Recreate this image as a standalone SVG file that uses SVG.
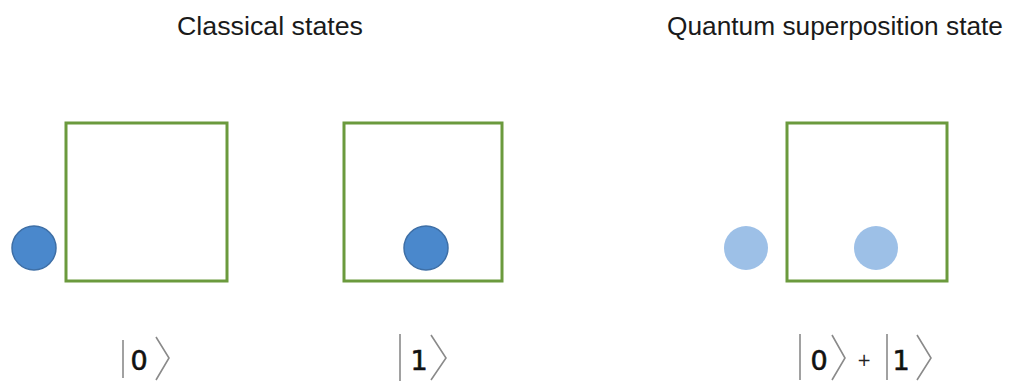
<svg xmlns="http://www.w3.org/2000/svg" width="1010" height="383" viewBox="0 0 1010 383">
<style>
.title{font-family:"Liberation Sans",Arial,sans-serif;font-size:25px;fill:#1a1a1a}
.box{fill:#ffffff;stroke:#6b9a3d;stroke-width:3}
.ball{fill:#4a88cc;stroke:#3e6fa6;stroke-width:1.5}
.ghost{fill:#9dc0e7}
.digit{font-family:"DejaVu Sans",Verdana,sans-serif;font-size:27px;fill:#111;stroke:#111;stroke-width:0.6}
.plus{font-family:"DejaVu Sans",Verdana,sans-serif;font-size:17px;fill:#222}
.ket{fill:none;stroke:#8a8a8a;stroke-width:1.6}
</style>
<rect width="1010" height="383" fill="#ffffff"/>
<text class="title" x="270" y="35" text-anchor="middle" textLength="186" lengthAdjust="spacingAndGlyphs">Classical states</text>
<text class="title" x="835" y="35" text-anchor="middle" textLength="336" lengthAdjust="spacingAndGlyphs">Quantum superposition state</text>
<g id="state0">
<rect class="box" x="66" y="123" width="161" height="158"/>
<circle class="ball" cx="34" cy="248" r="22"/>
</g>
<g id="state1">
<rect class="box" x="344" y="123" width="158" height="158"/>
<circle class="ball" cx="426" cy="248" r="22"/>
</g>
<g id="superposition">
<rect class="box" x="787" y="123" width="160" height="158"/>
<circle class="ghost" cx="746" cy="248" r="22"/>
<circle class="ghost" cx="876" cy="248" r="22"/>
</g>
<g id="labels">
<line class="ket" x1="123" y1="340" x2="123" y2="378"/>
<text class="digit" x="139" y="370" text-anchor="middle">0</text>
<polyline class="ket" points="156,337 169,358 156,380"/>
<line class="ket" x1="400" y1="334" x2="400" y2="381"/>
<text class="digit" x="419" y="370" text-anchor="middle">1</text>
<polyline class="ket" points="431,335 446,358 431,380"/>
<line class="ket" x1="800" y1="334" x2="800" y2="380"/>
<text class="digit" x="819" y="370" text-anchor="middle">0</text>
<polyline class="ket" points="832,335 845,358 832,380"/>
<text class="plus" x="864" y="366" text-anchor="middle">+</text>
<line class="ket" x1="887" y1="334" x2="887" y2="380"/>
<text class="digit" x="901" y="370" text-anchor="middle">1</text>
<polyline class="ket" points="917,335 931,358 917,380"/>
</g>
</svg>
